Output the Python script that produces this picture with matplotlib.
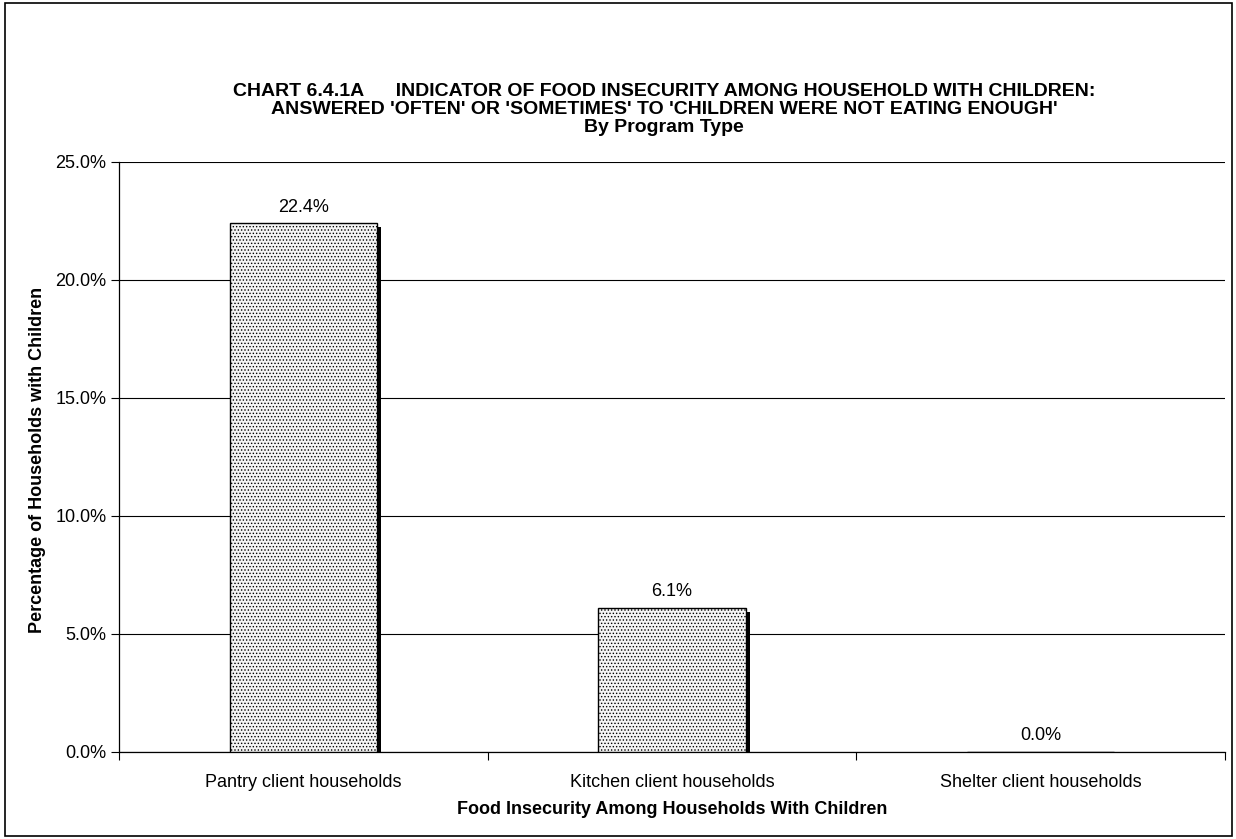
import matplotlib.pyplot as plt
from matplotlib.patches import Rectangle
from matplotlib.ticker import FuncFormatter
import matplotlib as mpl

categories = ['Pantry client households', 'Kitchen client households', 'Shelter client households']
values = [22.4, 6.1, 0.0]
labels = ['22.4%', '6.1%', '0.0%']
title_lines = ["CHART 6.4.1A      INDICATOR OF FOOD INSECURITY AMONG HOUSEHOLD WITH CHILDREN:",
               "ANSWERED 'OFTEN' OR 'SOMETIMES' TO 'CHILDREN WERE NOT EATING ENOUGH'",
               "By Program Type"]

plt.rcParams['font.family'] = ['Liberation Sans', 'DejaVu Sans']
mpl.rcParams['hatch.color'] = '#8a8a8a'
mpl.rcParams['hatch.linewidth'] = 0.6

W, H = 1236, 839
fig = plt.figure(figsize=(W / 100, H / 100), dpi=100)
# outer chart border
fig.patches.append(Rectangle((5 / W, 3 / H), 1227 / W, 833 / H, transform=fig.transFigure,
                             fill=False, edgecolor='black', linewidth=1.2))

ax = fig.add_axes([119 / W, 1 - 752 / H, (1225 - 119) / W, (752 - 162) / H])
x = list(range(len(categories)))
width = 0.4

# shadow behind the bars
px = 1.0 / ((1225 - 119) / 3)  # one pixel in x data units
for xi, v in zip(x, values):
    if v > 0:
        ax.bar(xi + 4 * px, v - 0.15, width=width, color='black', zorder=2)
ax.bar(x, values, width=width, facecolor='#f4f4f4', edgecolor='black', linewidth=1.0,
       hatch='.....', zorder=3)

for xi, v, lab in zip(x, values, labels):
    ax.text(xi, v + 0.68, lab, ha='center', va='center', fontsize=13)

ax.set_xlim(-0.5, 2.5)
ax.set_ylim(0, 25)
ax.set_yticks([0, 5, 10, 15, 20, 25])
ax.yaxis.set_major_formatter(FuncFormatter(lambda v, p: f'{v:.1f}%'))
ax.grid(axis='y', color='black', linewidth=0.8, zorder=0)
ax.set_axisbelow(True)

ax.set_xticks(x)
ax.set_xticklabels(categories, fontsize=13)
ax.set_xticks([-0.5, 0.5, 1.5, 2.5], minor=True)
ax.tick_params(axis='x', which='major', length=0, pad=16)
ax.tick_params(axis='x', which='minor', length=6, direction='out', width=0.8)
ax.tick_params(axis='y', length=6, direction='out', width=0.8, labelsize=13, pad=3)

ax.spines['right'].set_visible(False)
ax.spines['top'].set_visible(False)
for s in ['left', 'bottom']:
    ax.spines[s].set_linewidth(0.9)

ax.set_xlabel('Food Insecurity Among Households With Children', fontsize=13, fontweight='bold')
ax.xaxis.set_label_coords(0.5, -(809 - 752) / 590)
ax.xaxis.label.set_va('center')

fig.text(38 / W, 1 - 460 / H, 'Percentage of Households with Children', rotation=90,
         ha='center', va='center', fontsize=13, fontweight='bold')

for line, yc in zip(title_lines, [92, 110, 128]):
    fig.text(664 / W, 1 - yc / H, line, ha='center', va='center', fontsize=14, fontweight='bold')

fig.savefig('out.png', dpi=100)
